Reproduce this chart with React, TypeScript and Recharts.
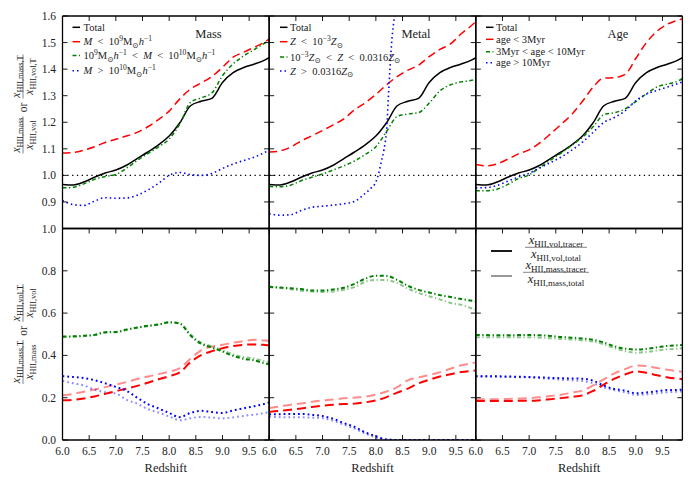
import React from 'react';
import { LineChart, Line, XAxis, YAxis, ReferenceLine } from 'recharts';

const FONT = "'Liberation Serif', 'DejaVu Serif', serif";
const W = 696;
const H = 480;
const PANEL_LEFT = [62.5, 269.2, 475.8];
const PANEL_W = 206.6;
const TOP_Y = 16;
const TOP_H = 212.5;
const BOT_Y = 228.5;
const BOT_H = 211.5;
const X_DOMAIN: [number, number] = [6, 9.874];

// ---------------- data ----------------
const redshift = [6.0, 6.2, 6.4, 6.6, 6.8, 7.0, 7.2, 7.4, 7.6, 7.8, 8.0, 8.2, 8.4, 8.6, 8.8, 9.0, 9.2, 9.4, 9.6, 9.8, 9.9];
const xTicks = [6.0, 6.5, 7.0, 7.5, 8.0, 8.5, 9.0, 9.5];
const topYTicks = [0.9, 1.0, 1.1, 1.2, 1.3, 1.4, 1.5, 1.6];
const bottomYTicks = [0.0, 0.2, 0.4, 0.6, 0.8, 1.0];

// top row: mass-weighted / volume-weighted ratio
const totalRatio = [0.966, 0.964, 0.975, 0.993, 1.009, 1.02, 1.038, 1.063, 1.088, 1.115, 1.148, 1.198, 1.262, 1.279, 1.29, 1.35, 1.387, 1.406, 1.419, 1.435, 1.446];
const massLowRatio = [1.084, 1.086, 1.095, 1.108, 1.124, 1.136, 1.148, 1.162, 1.183, 1.21, 1.242, 1.288, 1.325, 1.348, 1.372, 1.407, 1.445, 1.464, 1.483, 1.503, 1.518];
const massMidRatio = [0.953, 0.955, 0.968, 0.985, 0.996, 1.003, 1.027, 1.056, 1.082, 1.107, 1.137, 1.194, 1.275, 1.292, 1.31, 1.375, 1.42, 1.45, 1.474, 1.499, 1.512];
const massHighRatio = [0.905, 0.89, 0.887, 0.903, 0.916, 0.914, 0.915, 0.925, 0.945, 0.97, 1.0, 1.011, 1.003, 1.0, 1.007, 1.026, 1.043, 1.056, 1.069, 1.087, 1.098];
const metalLowRatio = [1.088, 1.092, 1.106, 1.13, 1.149, 1.169, 1.19, 1.213, 1.247, 1.273, 1.305, 1.341, 1.372, 1.396, 1.415, 1.447, 1.474, 1.495, 1.533, 1.565, 1.583];
const metalMidRatio = [0.958, 0.957, 0.963, 0.98, 0.993, 1.005, 1.02, 1.036, 1.054, 1.079, 1.108, 1.165, 1.222, 1.231, 1.236, 1.272, 1.318, 1.341, 1.352, 1.358, 1.366];
const metalHighRedshift = [6.0, 6.2, 6.4, 6.6, 6.8, 7.0, 7.2, 7.4, 7.6, 7.8, 7.9, 8.0, 8.05, 8.1, 8.15, 8.2, 8.25, 8.3, 8.35, 8.4, 8.45];
const metalHighRatio = [0.856, 0.85, 0.852, 0.868, 0.88, 0.884, 0.888, 0.893, 0.902, 0.932, 0.95, 0.975, 1.005, 1.05, 1.095, 1.17, 1.352, 1.51, 1.6, 1.68, 1.76];
const ageYoungRatio = [1.041, 1.036, 1.043, 1.061, 1.081, 1.096, 1.122, 1.156, 1.192, 1.23, 1.279, 1.332, 1.366, 1.368, 1.38, 1.44, 1.5, 1.543, 1.57, 1.585, 1.59];
const ageMidRatio = [0.942, 0.942, 0.948, 0.966, 0.988, 1.002, 1.03, 1.057, 1.084, 1.113, 1.144, 1.183, 1.228, 1.236, 1.25, 1.278, 1.307, 1.333, 1.344, 1.356, 1.368];
const ageOldRatio = [0.953, 0.954, 0.962, 0.978, 0.994, 1.008, 1.028, 1.048, 1.069, 1.095, 1.125, 1.162, 1.199, 1.218, 1.243, 1.281, 1.306, 1.32, 1.333, 1.346, 1.353];

// bottom row: tracer fractions (vol = dark, mass = light)
const massLowVol = [0.188, 0.19, 0.196, 0.206, 0.218, 0.231, 0.243, 0.256, 0.271, 0.287, 0.302, 0.32, 0.368, 0.401, 0.42, 0.434, 0.444, 0.45, 0.452, 0.449, 0.447];
const massLowMass = [0.212, 0.218, 0.228, 0.239, 0.25, 0.262, 0.274, 0.288, 0.3, 0.311, 0.323, 0.34, 0.384, 0.424, 0.441, 0.45, 0.46, 0.468, 0.474, 0.47, 0.466];
const massMidVol = [0.489, 0.49, 0.493, 0.497, 0.51, 0.511, 0.522, 0.532, 0.54, 0.546, 0.557, 0.55, 0.494, 0.455, 0.438, 0.418, 0.398, 0.384, 0.376, 0.362, 0.356];
const massMidMass = [0.487, 0.488, 0.491, 0.496, 0.507, 0.509, 0.52, 0.53, 0.538, 0.545, 0.555, 0.552, 0.5, 0.46, 0.443, 0.425, 0.405, 0.392, 0.385, 0.372, 0.366];
const massHighVol = [0.302, 0.298, 0.293, 0.283, 0.268, 0.251, 0.233, 0.2, 0.17, 0.149, 0.128, 0.108, 0.128, 0.138, 0.132, 0.128, 0.14, 0.15, 0.16, 0.172, 0.18];
const massHighMass = [0.28, 0.268, 0.258, 0.238, 0.226, 0.22, 0.19, 0.172, 0.146, 0.13, 0.111, 0.093, 0.103, 0.109, 0.106, 0.102, 0.107, 0.114, 0.12, 0.128, 0.133];

const metalLowVol = [0.133, 0.138, 0.143, 0.149, 0.156, 0.162, 0.167, 0.17, 0.172, 0.178, 0.187, 0.203, 0.224, 0.243, 0.268, 0.285, 0.3, 0.311, 0.321, 0.327, 0.329];
const metalLowMass = [0.151, 0.159, 0.167, 0.173, 0.181, 0.187, 0.191, 0.197, 0.2, 0.205, 0.215, 0.229, 0.25, 0.282, 0.295, 0.307, 0.32, 0.337, 0.353, 0.363, 0.368];
const metalMidVol = [0.725, 0.721, 0.717, 0.714, 0.707, 0.707, 0.712, 0.72, 0.738, 0.763, 0.777, 0.776, 0.757, 0.729, 0.71, 0.697, 0.685, 0.676, 0.667, 0.658, 0.654];
const metalMidMass = [0.722, 0.719, 0.713, 0.706, 0.702, 0.7, 0.702, 0.71, 0.723, 0.748, 0.757, 0.756, 0.742, 0.716, 0.695, 0.68, 0.665, 0.648, 0.639, 0.622, 0.612];
const metalHighVol = [0.121, 0.122, 0.123, 0.123, 0.119, 0.113, 0.1, 0.08, 0.062, 0.036, 0.018, 0.002, 0, 0, 0, 0, 0, 0, 0, 0, 0];
const metalHighMass = [0.11, 0.108, 0.107, 0.107, 0.106, 0.103, 0.09, 0.073, 0.054, 0.031, 0.012, 0.002, 0, 0, 0, 0, 0, 0, 0, 0, 0];

const ageYoungVol = [0.184, 0.184, 0.184, 0.184, 0.185, 0.185, 0.188, 0.193, 0.198, 0.204, 0.211, 0.232, 0.262, 0.29, 0.31, 0.324, 0.318, 0.306, 0.296, 0.29, 0.287];
const ageYoungMass = [0.193, 0.193, 0.193, 0.194, 0.196, 0.198, 0.202, 0.208, 0.214, 0.224, 0.234, 0.258, 0.287, 0.315, 0.335, 0.352, 0.35, 0.34, 0.332, 0.325, 0.321];
const ageMidVol = [0.497, 0.496, 0.495, 0.495, 0.496, 0.497, 0.495, 0.492, 0.487, 0.484, 0.48, 0.474, 0.461, 0.443, 0.432, 0.428, 0.431, 0.438, 0.445, 0.448, 0.45];
const ageMidMass = [0.486, 0.486, 0.486, 0.486, 0.486, 0.486, 0.484, 0.481, 0.478, 0.475, 0.471, 0.466, 0.452, 0.434, 0.42, 0.413, 0.416, 0.423, 0.429, 0.432, 0.434];
const ageOldVol = [0.301, 0.301, 0.301, 0.3, 0.299, 0.298, 0.296, 0.294, 0.292, 0.291, 0.29, 0.28, 0.257, 0.241, 0.234, 0.221, 0.225, 0.231, 0.236, 0.237, 0.238];
const ageOldMass = [0.301, 0.3, 0.299, 0.298, 0.297, 0.296, 0.292, 0.289, 0.285, 0.282, 0.279, 0.268, 0.249, 0.235, 0.226, 0.213, 0.215, 0.221, 0.226, 0.229, 0.23];

// ---------------- styles ----------------
type Sty = { stroke: string; dash?: string; width: number; opacity?: number };
const S_TOTAL: Sty = { stroke: '#000000', width: 1.5 };
const S_LOW: Sty = { stroke: '#ff0000', dash: '8 4.5', width: 1.5 };
const S_MID: Sty = { stroke: '#008000', dash: '4 2.5 1.3 2.5', width: 1.5 };
const S_HIGH: Sty = { stroke: '#0000ff', dash: '1.5 3', width: 1.6 };
const B_LOW: Sty = { stroke: '#ff0000', dash: '9 5', width: 2 };
const B_MID: Sty = { stroke: '#008000', dash: '4 2.5 1.3 2.5', width: 2 };
const B_HIGH: Sty = { stroke: '#0000ff', dash: '1.8 3', width: 2 };
const light = (s: Sty): Sty => ({ ...s, opacity: 0.45 });

type Series = { name: string; xs: number[]; ys: number[]; sty: Sty };
const toPts = (xs: number[], ys: number[]) => xs.map((z, i) => ({ z, v: ys[i] }));

const topSeries: Series[][] = [
  [
    { name: 'total', xs: redshift, ys: totalRatio, sty: S_TOTAL },
    { name: 'low', xs: redshift, ys: massLowRatio, sty: S_LOW },
    { name: 'mid', xs: redshift, ys: massMidRatio, sty: S_MID },
    { name: 'high', xs: redshift, ys: massHighRatio, sty: S_HIGH },
  ],
  [
    { name: 'total', xs: redshift, ys: totalRatio, sty: S_TOTAL },
    { name: 'low', xs: redshift, ys: metalLowRatio, sty: S_LOW },
    { name: 'mid', xs: redshift, ys: metalMidRatio, sty: S_MID },
    { name: 'high', xs: metalHighRedshift, ys: metalHighRatio, sty: S_HIGH },
  ],
  [
    { name: 'total', xs: redshift, ys: totalRatio, sty: S_TOTAL },
    { name: 'low', xs: redshift, ys: ageYoungRatio, sty: S_LOW },
    { name: 'mid', xs: redshift, ys: ageMidRatio, sty: S_MID },
    { name: 'high', xs: redshift, ys: ageOldRatio, sty: S_HIGH },
  ],
];

const bottomSeries: Series[][] = [
  [
    { name: 'lowM', xs: redshift, ys: massLowMass, sty: light(B_LOW) },
    { name: 'midM', xs: redshift, ys: massMidMass, sty: light(B_MID) },
    { name: 'highM', xs: redshift, ys: massHighMass, sty: light(B_HIGH) },
    { name: 'lowV', xs: redshift, ys: massLowVol, sty: B_LOW },
    { name: 'midV', xs: redshift, ys: massMidVol, sty: B_MID },
    { name: 'highV', xs: redshift, ys: massHighVol, sty: B_HIGH },
  ],
  [
    { name: 'lowM', xs: redshift, ys: metalLowMass, sty: light(B_LOW) },
    { name: 'midM', xs: redshift, ys: metalMidMass, sty: light(B_MID) },
    { name: 'highM', xs: redshift, ys: metalHighMass, sty: light(B_HIGH) },
    { name: 'lowV', xs: redshift, ys: metalLowVol, sty: B_LOW },
    { name: 'midV', xs: redshift, ys: metalMidVol, sty: B_MID },
    { name: 'highV', xs: redshift, ys: metalHighVol, sty: B_HIGH },
  ],
  [
    { name: 'lowM', xs: redshift, ys: ageYoungMass, sty: light(B_LOW) },
    { name: 'midM', xs: redshift, ys: ageMidMass, sty: light(B_MID) },
    { name: 'highM', xs: redshift, ys: ageOldMass, sty: light(B_HIGH) },
    { name: 'lowV', xs: redshift, ys: ageYoungVol, sty: B_LOW },
    { name: 'midV', xs: redshift, ys: ageMidVol, sty: B_MID },
    { name: 'highV', xs: redshift, ys: ageOldVol, sty: B_HIGH },
  ],
];

// ---------------- ticks ----------------
const TL = 5;
const tickTextStyle = { fontFamily: FONT, fontSize: 11.5, fill: '#222' };

const makeXTick = (side: 'top' | 'bottom', showLabel: boolean) => (p: any) => {
  const { x, y, payload } = p;
  const dir = side === 'bottom' ? -1 : 1;
  return (
    <g>
      <line x1={x} x2={x} y1={y} y2={y + dir * TL} stroke="#000" strokeWidth={0.9} />
      {showLabel && (
        <text x={x} y={y + 15} textAnchor="middle" {...tickTextStyle}>
          {Number(payload.value).toFixed(1)}
        </text>
      )}
    </g>
  );
};

const makeYTick = (side: 'left' | 'right', showLabel: boolean) => (p: any) => {
  const { x, y, payload } = p;
  const dir = side === 'left' ? 1 : -1;
  return (
    <g>
      <line x1={x} x2={x + dir * TL} y1={y} y2={y} stroke="#000" strokeWidth={0.9} />
      {showLabel && (
        <text x={x - 6.5} y={y + 4} textAnchor="end" {...tickTextStyle}>
          {Number(payload.value).toFixed(1)}
        </text>
      )}
    </g>
  );
};

const AXIS_LINE = { stroke: '#000', strokeWidth: 1.3 };

type PanelProps = {
  col: number;
  row: 'top' | 'bottom';
  series: Series[];
};

function Panel({ col, row, series }: PanelProps) {
  const left = PANEL_LEFT[col];
  const top = row === 'top' ? TOP_Y : BOT_Y;
  const height = row === 'top' ? TOP_H : BOT_H;
  const yDomain: [number, number] = row === 'top' ? [0.8, 1.6] : [0, 1];
  const yTicks = row === 'top' ? topYTicks : bottomYTicks;
  // every axis is 1px thick, so the margins leave 1px for each of them
  const margin = { left: left - 1, top: top - 1, right: W - left - PANEL_W - 1, bottom: H - top - height - 1 };
  return (
    <div style={{ position: 'absolute', left: 0, top: 0 }}>
      <LineChart width={W} height={H} margin={margin}>
        <XAxis
          xAxisId="b"
          type="number"
          dataKey="z"
          domain={X_DOMAIN}
          allowDataOverflow
          ticks={xTicks}
          interval={0}
          height={1}
          tickSize={0}
          tickMargin={0}
          tickLine={false}
          axisLine={AXIS_LINE}
          tick={row === 'bottom' ? makeXTick('bottom', true) : false}
        />
        <XAxis
          xAxisId="t"
          orientation="top"
          type="number"
          dataKey="z"
          domain={X_DOMAIN}
          allowDataOverflow
          ticks={xTicks}
          interval={0}
          height={1}
          tickSize={0}
          tickMargin={0}
          tickLine={false}
          axisLine={AXIS_LINE}
          tick={makeXTick('top', false)}
        />
        <YAxis
          yAxisId="l"
          type="number"
          domain={yDomain}
          allowDataOverflow
          ticks={yTicks}
          interval={0}
          width={1}
          tickSize={0}
          tickMargin={0}
          tickLine={false}
          axisLine={AXIS_LINE}
          tick={makeYTick('left', col === 0)}
        />
        <YAxis
          yAxisId="r"
          orientation="right"
          type="number"
          domain={yDomain}
          allowDataOverflow
          ticks={yTicks}
          interval={0}
          width={1}
          tickSize={0}
          tickMargin={0}
          tickLine={false}
          axisLine={AXIS_LINE}
          tick={makeYTick('right', false)}
        />
        {row === 'top' && (
          <ReferenceLine
            xAxisId="b"
            yAxisId="l"
            y={1}
            stroke="#000"
            strokeWidth={1.3}
            strokeDasharray="1.3 3.5"
          />
        )}
        {series.map((s) => (
          <Line
            key={s.name}
            xAxisId="b"
            yAxisId="l"
            data={toPts(s.xs, s.ys)}
            dataKey="v"
            type="monotone"
            stroke={s.sty.stroke}
            strokeWidth={s.sty.width}
            strokeDasharray={s.sty.dash}
            strokeOpacity={s.sty.opacity ?? 1}
            dot={false}
            activeDot={false}
            isAnimationActive={false}
          />
        ))}
      </LineChart>
    </div>
  );
}

// ---------------- rich text ----------------
type Seg = { t: string; it?: boolean; sup?: boolean; sub?: boolean };

function Rich({ x, y, segs, fs, anchor = 'start', fill = '#222' }: { x: number; y: number; segs: Seg[]; fs: number; anchor?: string; fill?: string }) {
  let cur = 0;
  const spans = segs.map((s, i) => {
    const target = s.sup ? -fs * 0.38 : s.sub ? fs * 0.25 : 0;
    const dy = target - cur;
    cur = target;
    return (
      <tspan key={i} dy={dy} fontSize={s.sup || s.sub ? fs * 0.72 : fs} fontStyle={s.it ? 'italic' : 'normal'}>
        {s.t}
      </tspan>
    );
  });
  return (
    <text x={x} y={y} textAnchor={anchor as any} fontFamily={FONT} fill={fill} style={{ whiteSpace: 'pre' }}>
      {spans}
    </text>
  );
}

const xs = (sub: string): Seg[] => [{ t: 'x', it: true }, { t: sub, sub: true }];

function Frac({ cx, num, den, w, fs, gapN = 3, gapD = 10 }: { cx: number; num: Seg[]; den: Seg[]; w: number; fs: number; gapN?: number; gapD?: number }) {
  return (
    <g>
      <Rich x={cx} y={-gapN} segs={num} fs={fs} anchor="middle" />
      <line x1={cx - w / 2} x2={cx + w / 2} y1={0} y2={0} stroke="#333" strokeWidth={0.6} />
      <Rich x={cx} y={gapD} segs={den} fs={fs} anchor="middle" />
    </g>
  );
}

const REL = '\u2002<\u2002';
const RELG = '\u2002>\u2002';

const legends: { sampleX: number; textX: number; rows: number[]; items: { sty: Sty; segs: Seg[] }[] }[] = [
  {
    sampleX: 72.5,
    textX: 83.5,
    rows: [27.3, 41.7, 55.5, 70.7],
    items: [
      { sty: S_TOTAL, segs: [{ t: 'Total' }] },
      { sty: S_LOW, segs: [{ t: 'M', it: true }, { t: REL + '10' }, { t: '9', sup: true }, { t: 'M' }, { t: '\u2299', sub: true }, { t: 'h', it: true }, { t: '\u22121', sup: true }] },
      {
        sty: S_MID,
        segs: [
          { t: '10' }, { t: '9', sup: true }, { t: 'M' }, { t: '\u2299', sub: true }, { t: 'h', it: true }, { t: '\u22121', sup: true },
          { t: REL }, { t: 'M', it: true }, { t: REL + '10' }, { t: '10', sup: true }, { t: 'M' }, { t: '\u2299', sub: true }, { t: 'h', it: true }, { t: '\u22121', sup: true },
        ],
      },
      { sty: S_HIGH, segs: [{ t: 'M', it: true }, { t: RELG + '10' }, { t: '10', sup: true }, { t: 'M' }, { t: '\u2299', sub: true }, { t: 'h', it: true }, { t: '\u22121', sup: true }] },
    ],
  },
  {
    sampleX: 280,
    textX: 290,
    rows: [27.3, 41.7, 57, 71],
    items: [
      { sty: S_TOTAL, segs: [{ t: 'Total' }] },
      { sty: S_LOW, segs: [{ t: 'Z', it: true }, { t: REL + '10' }, { t: '\u22123', sup: true }, { t: 'Z', it: true }, { t: '\u2299', sub: true }] },
      {
        sty: S_MID,
        segs: [
          { t: '10' }, { t: '\u22123', sup: true }, { t: 'Z', it: true }, { t: '\u2299', sub: true },
          { t: REL }, { t: 'Z', it: true }, { t: REL + '0.0316' }, { t: 'Z', it: true }, { t: '\u2299', sub: true },
        ],
      },
      { sty: S_HIGH, segs: [{ t: 'Z', it: true }, { t: RELG + '0.0316' }, { t: 'Z', it: true }, { t: '\u2299', sub: true }] },
    ],
  },
  {
    sampleX: 486,
    textX: 496,
    rows: [27.3, 39.3, 51.7, 62.7],
    items: [
      { sty: S_TOTAL, segs: [{ t: 'Total' }] },
      { sty: S_LOW, segs: [{ t: 'age < 3Myr' }] },
      { sty: S_MID, segs: [{ t: '3Myr < age < 10Myr' }] },
      { sty: S_HIGH, segs: [{ t: 'age > 10Myr' }] },
    ],
  },
];

const panelTitles = [
  { text: 'Mass', x: 208.5 },
  { text: 'Metal', x: 416 },
  { text: 'Age', x: 618 },
];

function Overlay() {
  return (
    <svg width={W} height={H} style={{ position: 'absolute', left: 0, top: 0, pointerEvents: 'none' }}>
      {/* y-axis label, top row */}
      <g transform="translate(23, 104) rotate(-90)">
        <Frac cx={-31} w={37} fs={11.5} num={xs('HII,mass')} den={xs('HII,vol')} />
        <text x={-3.5} y={3.5} textAnchor="middle" fontFamily={FONT} fontSize={11.5} fill="#222">or</text>
        <Frac cx={27.5} w={44} fs={11.5} num={xs('HII,mass,T')} den={xs('HII,vol,T')} />
      </g>
      {/* y-axis label, bottom row */}
      <g transform="translate(23, 334) rotate(-90)">
        <Frac cx={-28} w={44} fs={11.5} num={xs('HII,mass,T')} den={xs('HII,mass')} />
        <text x={3} y={3.5} textAnchor="middle" fontFamily={FONT} fontSize={11.5} fill="#222">or</text>
        <Frac cx={31} w={38} fs={11.5} num={xs('HII,vol,T')} den={xs('HII,vol')} />
      </g>

      {/* x-axis labels */}
      {PANEL_LEFT.map((l, i) => (
        <text key={i} x={l + PANEL_W / 2} y={471.5} textAnchor="middle" fontFamily={FONT} fontSize={12.5} fill="#222">
          Redshift
        </text>
      ))}

      {/* panel titles */}
      {panelTitles.map((t) => (
        <text key={t.text} x={t.x} y={38} textAnchor="middle" fontFamily={FONT} fontSize={12.5} fill="#222">
          {t.text}
        </text>
      ))}

      {/* top legends */}
      {legends.map((lg, i) => (
        <g key={i}>
          {lg.items.map((it, j) => (
            <g key={j}>
              <line
                x1={lg.sampleX}
                x2={lg.sampleX + 7.5}
                y1={lg.rows[j]}
                y2={lg.rows[j]}
                stroke={it.sty.stroke}
                strokeWidth={it.sty.width}
                strokeDasharray={it.sty.dash ? (j === 1 ? '7.5 3' : it.sty.dash) : undefined}
              />
              <Rich x={lg.textX} y={lg.rows[j] + 3.6} segs={it.segs} fs={10.5} />
            </g>
          ))}
        </g>
      ))}

      {/* bottom legend */}
      <line x1={491} x2={512} y1={251} y2={251} stroke="#000" strokeWidth={1.8} />
      <line x1={491} x2={512} y1={276} y2={276} stroke="#000" strokeOpacity={0.45} strokeWidth={1.8} />
      <g transform="translate(0, 247.3)">
        <Frac cx={556} w={62} fs={12.5} gapN={3} gapD={10.5} num={xs('HII,vol,tracer')} den={xs('HII,vol,total')} />
      </g>
      <g transform="translate(0, 272.3)">
        <Frac cx={556} w={66} fs={12.5} gapN={3} gapD={10.5} num={xs('HII,mass,tracer')} den={xs('HII,mass,total')} />
      </g>
    </svg>
  );
}

export default function App() {
  return (
    <div style={{ position: 'absolute', left: 0, top: 0, width: W, height: H, background: '#fff', overflow: 'hidden' }}>
      {topSeries.map((s, i) => (
        <Panel key={'t' + i} col={i} row="top" series={s} />
      ))}
      {bottomSeries.map((s, i) => (
        <Panel key={'b' + i} col={i} row="bottom" series={s} />
      ))}
      <Overlay />
    </div>
  );
}
